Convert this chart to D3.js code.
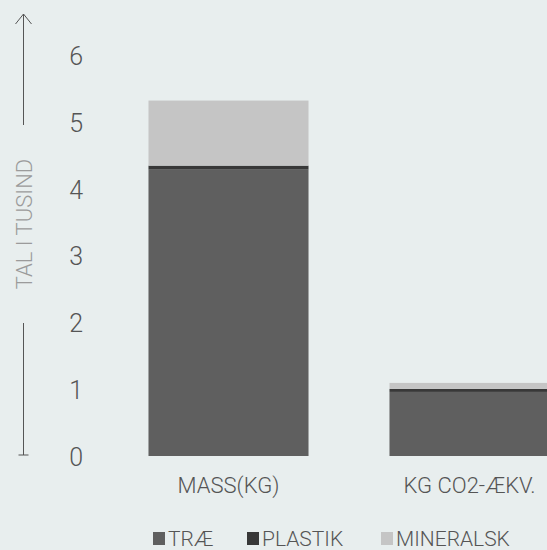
<!DOCTYPE html>
<html><head><meta charset="utf-8">
<script src="https://cdn.jsdelivr.net/npm/d3@7"></script>
<style>
html,body{margin:0;padding:0;background:#e8eeee;}
svg{display:block;font-family:Roboto,"Noto Sans",sans-serif;}
</style></head>
<body>
<svg id="c" width="547" height="550"></svg>
<script>
const categories = ["MASS(KG)", "KG CO2-ÆKV."];
const seriesNames = ["TRÆ", "PLASTIK", "MINERALSK"];
const traeValues = [4.29, 0.96];
const plastikValues = [0.06, 0.045];
const mineralskValues = [0.975, 0.09];
const yTicks = [0, 1, 2, 3, 4, 5, 6];
const colors = ["#5f5f5f", "#383838", "#c5c5c5"];
const yLabel = "TAL I TUSIND";

const rows = categories.map((c, i) => ({cat: c, "TRÆ": traeValues[i], "PLASTIK": plastikValues[i], "MINERALSK": mineralskValues[i]}));
const stacked = d3.stack().keys(seriesNames)(rows);

const svg = d3.select("#c");
const x = d3.scaleBand().domain(categories).range([108, 590]).paddingInner(0.336).paddingOuter(0.168);
const y = d3.scaleLinear().domain([0, 6]).range([456, 55.5]);
const color = d3.scaleOrdinal().domain(seriesNames).range(colors);

// bars
svg.append("g").selectAll("g").data(stacked).join("g")
  .attr("fill", d => color(d.key))
  .selectAll("rect").data(d => d).join("rect")
  .attr("x", d => x(d.data.cat))
  .attr("width", x.bandwidth())
  .attr("y", d => y(d[1]))
  .attr("height", d => y(d[0]) - y(d[1]));

// y tick labels
const yAxis = d3.axisLeft(y).tickValues(yTicks).tickSize(0).tickPadding(0).tickFormat(d3.format("d"));
const gy = svg.append("g").attr("transform", "translate(83,0)").call(yAxis);
gy.select(".domain").remove();
gy.selectAll("text").attr("fill", "#555").attr("font-size", 25).attr("font-weight", 300)
  .attr("font-family", "Roboto, sans-serif").attr("dy", "0.36em");

// x labels
const xAxis = d3.axisBottom(x).tickSize(0).tickPadding(0);
const gx = svg.append("g").attr("transform", "translate(0,477)").call(xAxis);
gx.select(".domain").remove();
gx.selectAll("text").attr("fill", "#555").attr("font-size", 22).attr("font-weight", 300)
  .attr("font-family", "Roboto, sans-serif").attr("dy", "0.71em");

// axis arrow
const ax = 23.5;
const arr = svg.append("g").attr("stroke", "#555").attr("stroke-width", 1).attr("fill", "none");
arr.append("line").attr("x1", ax).attr("x2", ax).attr("y1", 14).attr("y2", 125);
arr.append("path").attr("d", `M${ax-8},24 L${ax},14 L${ax+8},24`);
arr.append("line").attr("x1", ax).attr("x2", ax).attr("y1", 323).attr("y2", 455);
arr.append("line").attr("x1", ax-5).attr("x2", ax+5).attr("y1", 455).attr("y2", 455);
svg.append("text").attr("transform", `translate(${ax+8},224) rotate(-90)`)
  .attr("text-anchor", "middle").attr("fill", "#9b9b9b").attr("font-size", 22).attr("font-weight", 300)
  .text(yLabel);

// legend
const legendX = [153, 247, 381];
const lg = svg.append("g").selectAll("g").data(seriesNames).join("g")
  .attr("transform", (d, i) => `translate(${legendX[i]},532)`);
lg.append("rect").attr("width", 12).attr("height", 13).attr("fill", d => color(d));
lg.append("text").attr("x", 15).attr("y", 14).attr("fill", "#555").attr("font-size", 21).attr("font-weight", 300)
  .text(d => d);
</script>
</body></html>
